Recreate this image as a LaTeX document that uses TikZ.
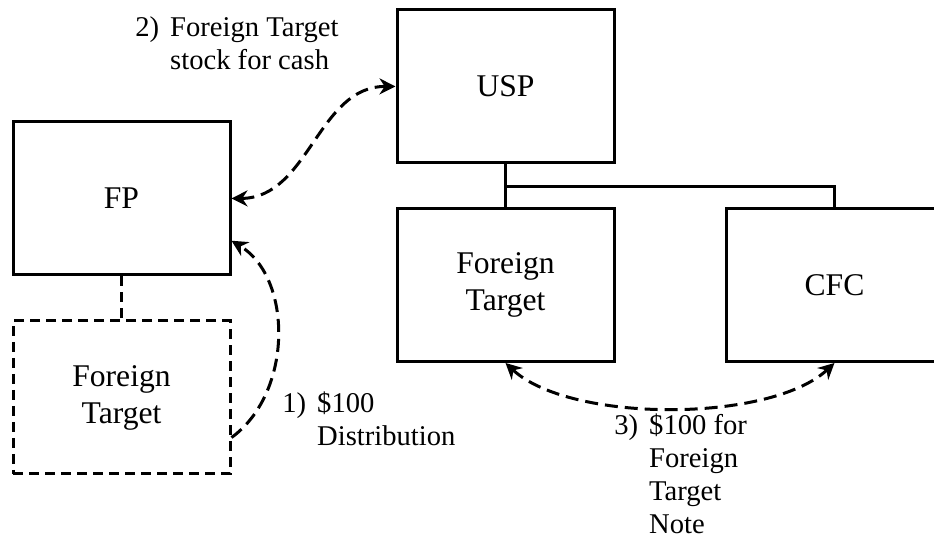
\documentclass[tikz,border=0pt]{standalone}
\usepackage{fontspec}
\setmainfont{Liberation Serif}
\usetikzlibrary{arrows.meta}
\tikzstyle{entity} = [rectangle, minimum width=108.5pt, minimum height=76.5pt, text centered, align=center, draw=black, line width=1.5pt, font=\fontsize{15.8}{18.5}\selectfont]
\tikzstyle{ghost} = [entity, dash pattern=on 5pt off 3pt]
\tikzstyle{link} = [line width=1.5pt]
\tikzstyle{arrow} = [line width=1.5pt, dash pattern=on 6.5pt off 3.5pt, >={Stealth[length=8pt,width=8pt]}]
\tikzstyle{note} = [anchor=base west, inner sep=0pt, font=\fontsize{14.3}{16.5}\selectfont]
\begin{document}
\begin{tikzpicture}[x=0.5pt, y=-0.5pt]
		\useasboundingbox (0,0) rectangle (934,539);
		\node (fp) [entity] at (121.5,198.5) {FP};
		\node (ftold) [ghost] at (121.5,397.5) {Foreign\\Target};
		\node (usp) [entity] at (505.5,86.5) {USP};
		\node (ft) [entity] at (505.5,285) {Foreign\\Target};
		\node (cfc) [entity] at (834.5,285) {CFC};
		
		\draw [link, dash pattern=on 5pt off 3pt] (fp.south) -- (ftold.north);
		\draw [link] (usp.south) -- (ft.north);
		\draw [link] (usp.south) ++(0,22.5) -| (cfc.north);
		
		\draw [arrow, <->] (fp.east) .. controls (309,198) and (318,86) .. (usp.west);
		\draw [arrow, ->] (ftold.-20) .. controls (293,393) and (293,278) .. (fp.-21);
		\draw [arrow, <->] (ft.south) .. controls (570,423) and (770,423) .. (cfc.south);
		
		\node (lbl2) [note] at (135,37) {\begin{tabular}[t]{@{}l@{\hspace{5.5pt}}l@{}}2) & Foreign Target\\ & stock for cash\end{tabular}};
		\node (lbl1) [note] at (282,413) {\begin{tabular}[t]{@{}l@{\hspace{5.5pt}}l@{}}1) & \$100\\ & Distribution\end{tabular}};
		\node (lbl3) [note] at (614,435) {\begin{tabular}[t]{@{}l@{\hspace{5.5pt}}l@{}}3) & \$100 for\\ & Foreign\\ & Target\\ & Note\end{tabular}};
\end{tikzpicture}
\end{document}
